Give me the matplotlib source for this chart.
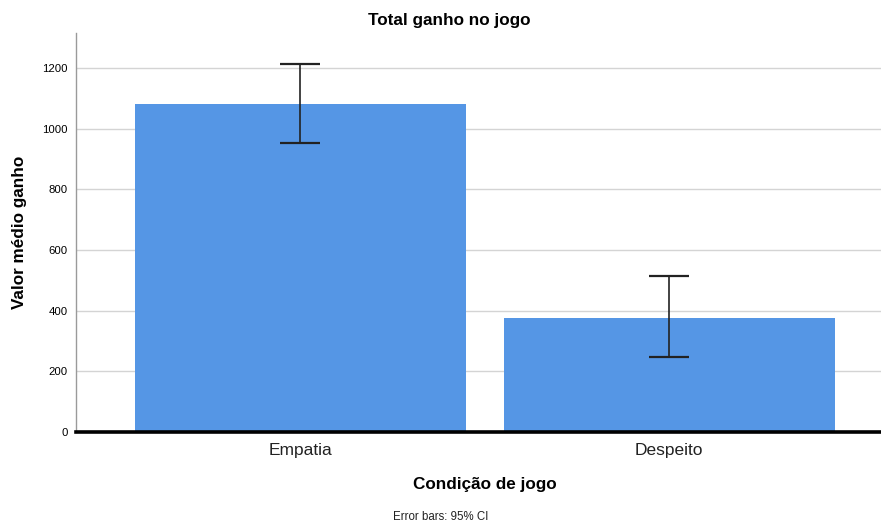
import matplotlib

matplotlib.use("Agg")
import matplotlib.pyplot as plt
import numpy as np

categories = ["Empatia", "Despeito"]
means = [1083, 377]
ci_low = [953, 247]
ci_high = [1213, 514]
yticks = [0, 200, 400, 600, 800, 1000, 1200]

BAR_COLOR = "#5596e5"
GRID = "#d4d4d4"

plt.rcParams["font.family"] = ["Liberation Sans", "DejaVu Sans"]

fig = plt.figure(figsize=(8.81, 5.26), dpi=100)
ax = fig.add_axes([0.0863, 0.1787, 0.9137, 0.7583])

x = np.arange(len(categories))
means_arr = np.asarray(means, dtype=float)
yerr = np.vstack([means_arr - np.asarray(ci_low), np.asarray(ci_high) - means_arr])

ax.bar(x, means_arr, width=0.898, color=BAR_COLOR, zorder=2)
ax.errorbar(x, means_arr, yerr=yerr, fmt="none", ecolor="#222222", elinewidth=1.2,
            capsize=14.5, capthick=1.6, zorder=3)

ax.set_xlim(-0.609, 1.575)
ax.set_ylim(0, 1315)
ax.set_yticks(yticks)
ax.set_yticklabels([str(t) for t in yticks], fontsize=8.2)
ax.set_xticks(x)
ax.set_xticklabels(categories, fontsize=12.5, color="#222222")
ax.tick_params(axis="y", length=0, pad=6)
ax.tick_params(axis="x", length=0, pad=8)
ax.grid(axis="y", color=GRID, linewidth=1.0, zorder=0)
ax.set_axisbelow(True)

for side in ["top", "right"]:
    ax.spines[side].set_visible(False)
ax.spines["left"].set_color("#9a9a9a")
ax.spines["left"].set_linewidth(1.0)
ax.spines["bottom"].set_color("black")
ax.spines["bottom"].set_linewidth(2.6)
ax.spines["bottom"].set_zorder(4)

# SPSS-style labels placed in figure coordinates
fig.text(449 / 881, 1 - 20 / 526, "Total ganho no jogo", ha="center", va="center",
         fontsize=12.3, fontweight="bold")
fig.text(20 / 881, 1 - 232 / 526, "Valor médio ganho", ha="center", va="center",
         rotation=90, fontsize=12.3, fontweight="bold")
fig.text(485 / 881, 1 - 484 / 526, "Condição de jogo", ha="center", va="center",
         fontsize=12.3, fontweight="bold")
fig.text(441 / 881, 1 - 517 / 526, "Error bars: 95% CI", ha="center", va="center",
         fontsize=8.3, color="#222222")

fig.savefig("out.png", dpi=100)
